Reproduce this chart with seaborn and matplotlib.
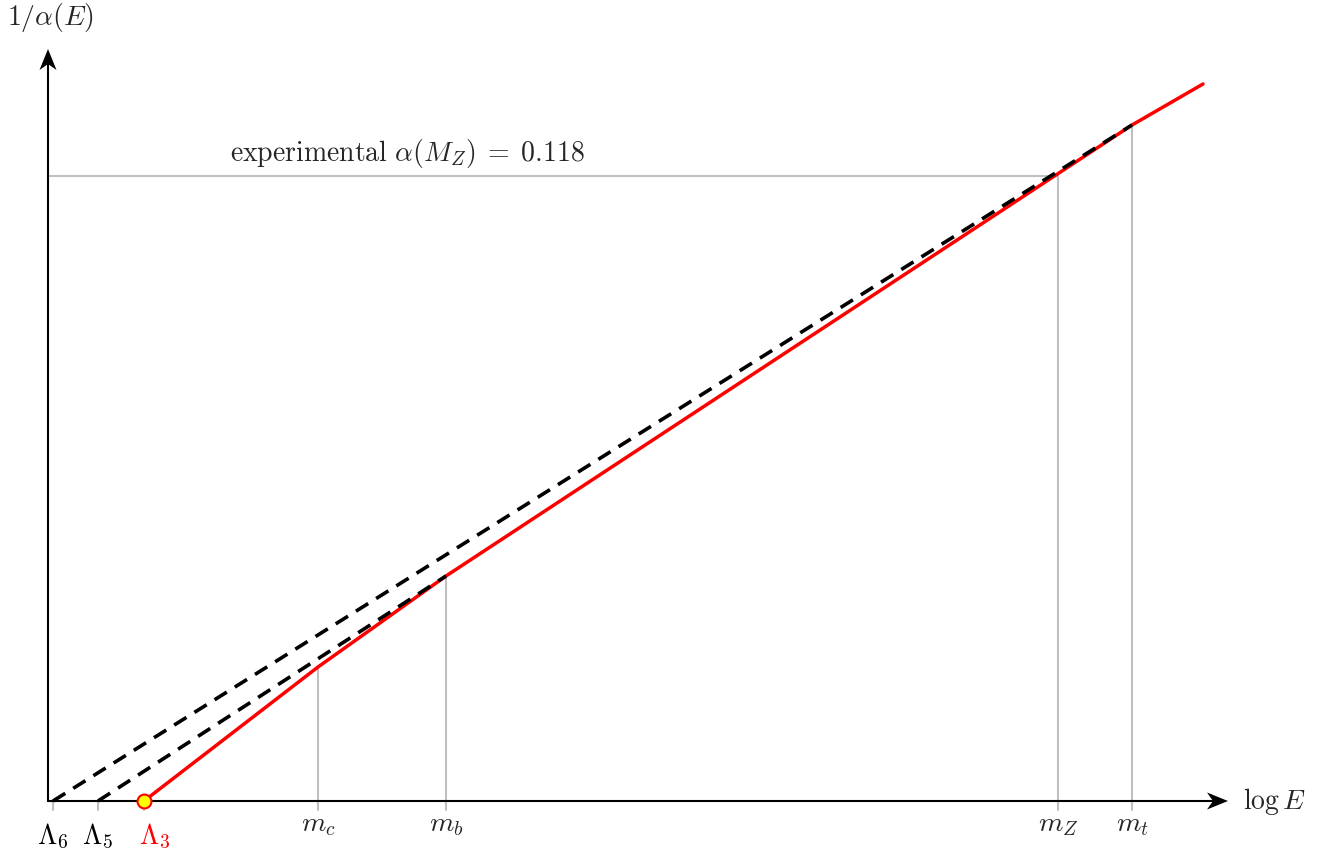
import numpy as np
import pandas as pd
import matplotlib
matplotlib.use("Agg")
import matplotlib.pyplot as plt
from matplotlib.patches import Polygon
import seaborn as sns

# running coupling sketch: 1/alpha vs log E (arbitrary units)
# thresholds on the log E axis
lam6, lam5, lam3 = 0.05, 0.50, 0.96
m_c, m_b, m_Z, m_t = 2.70, 3.98, 10.10, 10.84
log_e_end = 11.55

# red curve: piecewise straight segments between thresholds
red_x = [lam3, m_c, m_b, m_t, log_e_end]
red_y = [0.00, 1.34, 2.25, 6.76, 7.17]

# dashed extrapolations down to Lambda_6 and Lambda_5
dash6_x = [lam6, m_t]
dash6_y = [0.00, 6.76]
dash5_x = [lam5, m_b]
dash5_y = [0.00, 2.25]

inv_alpha_mz = 6.25
x_axis_end = 11.80
y_axis_end = 7.52

mass_ticks = [m_c, m_b, m_Z, m_t]
mass_tops = [1.34, 2.25, inv_alpha_mz, 6.76]
mass_labels = [r"$m_c$", r"$m_b$", r"$m_Z$", r"$m_t$"]
lam_ticks = [lam6, lam5, lam3]
lam_labels = [r"$\Lambda_6$", r"$\Lambda_5$", r"$\Lambda_3$"]
lam_colors = ["black", "black", "red"]

sns.set_theme(style="white")
plt.rcParams["mathtext.fontset"] = "cm"
plt.rcParams["font.family"] = ["DejaVu Serif"]

fig = plt.figure(figsize=(13.21, 8.53), dpi=100)
ax = fig.add_axes([0, 0, 1, 1])
ax.set_xlim(-0.48, 12.73)
ax.set_ylim(-0.51, 8.02)
ax.axis("off")

grey = "#c0c0c0"
tick_len = 0.09

# grey guide lines
for x, top in zip(mass_ticks, mass_tops):
    ax.plot([x, x], [-tick_len, top], color=grey, lw=1.5, zorder=1)
for x in lam_ticks:
    ax.plot([x, x], [-tick_len, 0], color=grey, lw=1.5, zorder=1)
ax.plot([0, m_Z], [inv_alpha_mz, inv_alpha_mz], color=grey, lw=1.5, zorder=1)


def stealth(tip, direction, length=0.21, half=0.085, notch=0.06):
    # latex-style stealth arrow head
    d = np.array(direction, float)
    n = np.array([-d[1], d[0]])
    tip = np.array(tip, float)
    back = tip - length * d
    pts = [tip, back + half * n, tip - (length - notch) * d, back - half * n]
    ax.add_patch(Polygon(pts, closed=True, color="black", lw=0, zorder=2))


# axes with arrows
ax.plot([0, x_axis_end - 0.1], [0, 0], color="black", lw=1.5, zorder=2)
ax.plot([0, 0], [0, y_axis_end - 0.1], color="black", lw=1.5, zorder=2)
stealth((x_axis_end, 0), (1, 0))
stealth((0, y_axis_end), (0, 1))

# curves
red_df = pd.DataFrame({"x": red_x, "y": red_y})
sns.lineplot(data=red_df, x="x", y="y", sort=False, color="red", lw=2.5,
             ax=ax, zorder=3)
for xs, ys in [(dash6_x, dash6_y), (dash5_x, dash5_y)]:
    d = pd.DataFrame({"x": xs, "y": ys})
    sns.lineplot(data=d, x="x", y="y", sort=False, color="black", lw=2.6,
                 ax=ax, zorder=4)
    ax.lines[-1].set_linestyle((0, (4.0, 2.6)))
ax.plot([lam3], [0], marker="o", ms=10, mfc="yellow", mec="red", mew=1.5,
        zorder=5)

# labels
fs = 20
for x, lab in zip(mass_ticks, mass_labels):
    ax.text(x, -0.23, lab, ha="center", va="center", fontsize=fs)
for x, lab, c in zip(lam_ticks, lam_labels, lam_colors):
    off = 0.11 if c == "red" else 0.0
    ax.text(x + off, -0.34, lab, ha="center", va="center", fontsize=fs, color=c)

ax.text(x_axis_end + 0.15, 0.0, r"$\log E$", ha="left", va="center", fontsize=fs)
ax.text(0.02, 7.84, r"$1/\alpha(E)$", ha="center", va="center", fontsize=fs)
ax.text(3.59, 6.48, r"$\mathrm{experimental}\ \alpha(M_Z)\;=\;0.118$",
        ha="center", va="center", fontsize=fs)

fig.savefig("out.png", dpi=100)
